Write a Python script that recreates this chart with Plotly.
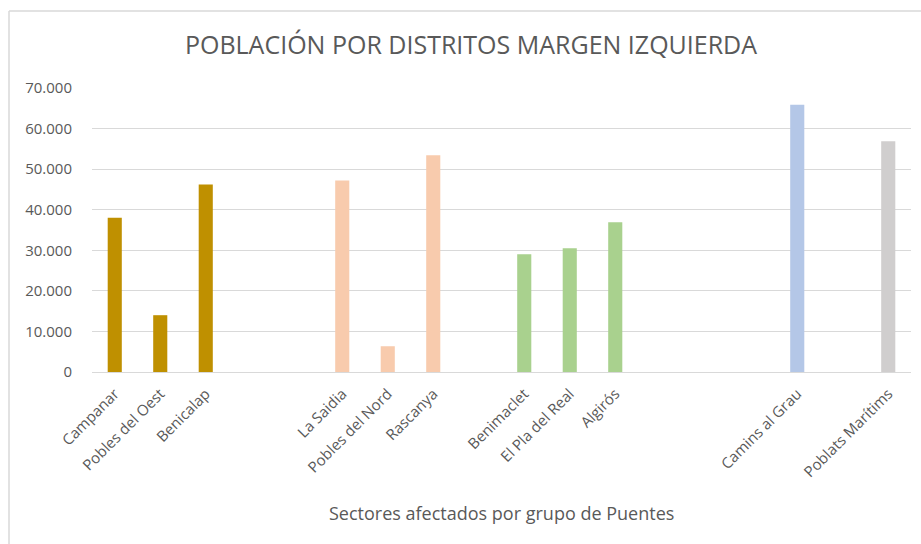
import plotly.graph_objects as go

# District population grouped by bridge sector
group_names = ["Grupo 1", "Grupo 2", "Grupo 3", "Grupo 4", "Grupo 5"]
group_districts = [
    ["Campanar", "Pobles del Oest", "Benicalap"],
    ["La Saidia", "Pobles del Nord", "Rascanya"],
    ["Benimaclet", "El Pla del Real", "Algirós"],
    ["Camins al Grau"],
    ["Poblats Marítims"],
]
group_population = [
    [38000, 14000, 46200],
    [47200, 6350, 53400],
    [29000, 30500, 36900],
    [65900],
    [56900],
]
group_colors = ["#BF9000", "#F8CBAD", "#A9D18E", "#B4C7E7", "#D0CECE"]
# empty category slots left after each group
blank_after = [2, 1, 3, 1, 0]

y_ticks = [0, 10000, 20000, 30000, 40000, 50000, 60000, 70000]

title_text = "POBLACIÓN POR DISTRITOS MARGEN IZQUIERDA"
x_title_text = "Sectores afectados por grupo de Puentes"

# ordered list of category slots, blanks get unique whitespace names
category_order = []
n_blank = 0
for names, gap in zip(group_districts, blank_after):
    category_order.extend(names)
    for _ in range(gap):
        n_blank += 1
        category_order.append(" " * n_blank)

W, H = 921, 544
ML, MR, MT, MB = 92, 10, 88, 172
PW, PH = W - ML - MR, H - MT - MB

TEXT = "#595959"
GRID = "#D9D9D9"
FONT = "Open Sans, Lato, sans-serif"

fig = go.Figure()
for name, names, vals, col in zip(group_names, group_districts, group_population, group_colors):
    fig.add_trace(go.Bar(
        x=names, y=vals, name=name,
        marker=dict(color=col, line=dict(width=0)),
        width=0.31,
        hovertemplate="%{x}: %{y:,}<extra></extra>",
    ))

fig.update_layout(
    width=W, height=H,
    margin=dict(l=ML, r=MR, t=MT, b=MB),
    paper_bgcolor="white", plot_bgcolor="white",
    barmode="overlay",
    showlegend=False,
    separators=",.",
    font=dict(family=FONT, color=TEXT),
    title=dict(
        text=title_text,
        font=dict(size=25, color=TEXT, family=FONT),
        x=471 / W, xanchor="center",
        y=1 - 45 / H, yanchor="middle", yref="container",
    ),
    xaxis=dict(
        type="category",
        categoryorder="array", categoryarray=category_order,
        range=[-0.5, len(category_order) - 0.5],
        tickangle=-45,
        tickfont=dict(size=15, color=TEXT),
        showgrid=False,
        showline=True, linecolor=GRID, linewidth=1.4,
        ticks="outside", ticklen=6, tickcolor="rgba(0,0,0,0)",
        fixedrange=True,
    ),
    yaxis=dict(
        range=[0, 70000],
        tickvals=y_ticks,
        tickformat=",",
        tickfont=dict(size=15, color=TEXT),
        showgrid=True, gridcolor=GRID, gridwidth=1.4,
        zeroline=False, showline=False,
        ticks="outside", ticklen=16, tickcolor="rgba(0,0,0,0)",
        fixedrange=True,
    ),
    annotations=[dict(
        text=x_title_text,
        xref="paper", yref="paper",
        x=0.5, y=-(513 - (H - MB)) / PH,
        xanchor="center", yanchor="middle",
        showarrow=False,
        font=dict(size=18, color=TEXT, family=FONT),
    )],
    shapes=[
        # chart frame (top and left edges)
        dict(type="line", xref="paper", yref="paper",
             x0=(9 - ML) / PW, x1=(W + 5 - ML) / PW,
             y0=(H - MB - 11) / PH, y1=(H - MB - 11) / PH,
             line=dict(color=GRID, width=1.5)),
        dict(type="line", xref="paper", yref="paper",
             x0=(9 - ML) / PW, x1=(9 - ML) / PW,
             y0=(H - MB - 11) / PH, y1=-(MB + 5) / PH,
             line=dict(color=GRID, width=1.5)),
    ],
)

fig.write_html("out.html")
